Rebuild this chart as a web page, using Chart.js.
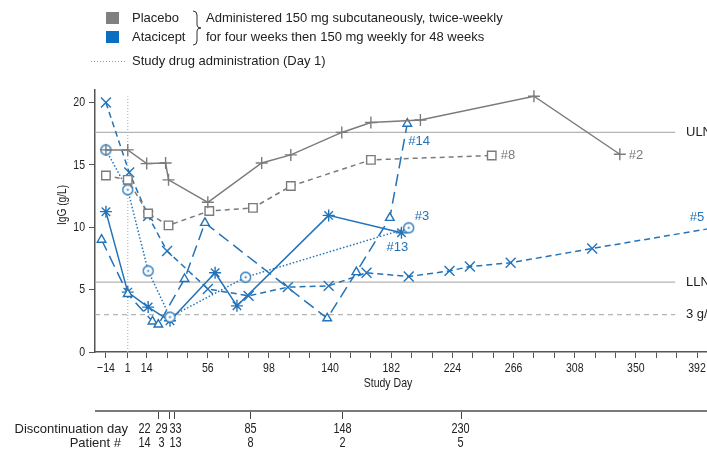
<!DOCTYPE html>
<html>
<head>
<meta charset="utf-8">
<script src="https://cdn.jsdelivr.net/npm/chart.js@4.4.0/dist/chart.umd.min.js"></script>
<style>
  html, body { margin: 0; padding: 0; background: #fff; overflow: hidden; }
  #wrap { width: 707px; height: 454px; overflow: hidden; }
</style>
</head>
<body>
<div id="wrap"><canvas id="igg" width="760" height="454"></canvas></div>
<script>
// IgG (g/L) by study day, one pair of arrays per patient
const p2Days  = [-14, 1, 14, 27, 29, 56, 93, 113, 148, 168, 202, 280, 339];
const p2IgG   = [16.2, 16.2, 15.1, 15.15, 13.8, 12.0, 15.15, 15.8, 17.6, 18.4, 18.6, 20.5, 15.85];
const p8Days  = [-14, 1, 15, 29, 57, 87, 113, 168, 251];
const p8IgG   = [14.15, 13.8, 11.1, 10.15, 11.3, 11.55, 13.3, 15.4, 15.75];
const p14Days = [-17, 1, 18, 22, 40, 54, 138, 158, 181, 193];
const p14IgG  = [9.0, 4.65, 2.45, 2.2, 5.85, 10.35, 2.7, 6.4, 10.75, 18.3];
const p3Days  = [-14, 1, 15, 30, 82, 194];
const p3IgG   = [16.2, 13.0, 6.5, 2.8, 6.0, 9.95];
const p13Days = [-14, 1, 15, 30, 61, 76, 139, 189];
const p13IgG  = [11.25, 4.8, 3.6, 2.5, 6.35, 3.7, 10.95, 9.55];
const p5Days  = [-14, 2, 15, 28, 56, 84, 111, 139, 165, 194, 222, 236, 264, 320, 406];
const p5IgG   = [20.0, 14.4, 10.9, 8.1, 5.05, 4.5, 5.2, 5.3, 6.35, 6.05, 6.5, 6.85, 7.15, 8.3, 10.0];

const ULN = 17.6, LLN = 5.6, LOW = 3;
const dosingDay = 1;

const xTickValues = [-14, 1, 14, 28, 42, 56, 70, 84, 98, 112, 126, 140, 154, 168, 182, 196, 210,
                     224, 238, 252, 266, 280, 294, 308, 322, 336, 350, 364, 378, 392, 406, 420];
const xTickLabels = [-14, 1, 14, 56, 98, 140, 182, 224, 266, 308, 350, 392];
const yTickValues = [0, 5, 10, 15, 20];

const discDays = [22, 29, 33, 85, 148, 230];
const discPatients = ['14', '3', '13', '8', '2', '5'];

const gray = '#7b7b7b';
const blue = '#2273b9';
const refGray = '#b4b4b4';
const sans = '"Liberation Sans", Arial, Helvetica, sans-serif';

const pts = (xs, ys) => xs.map((x, i) => ({ x: x, y: ys[i] }));

function ring() {
  const c = document.createElement('canvas');
  c.width = 13; c.height = 13;
  const g = c.getContext('2d');
  g.strokeStyle = blue; g.lineWidth = 1.3; g.fillStyle = '#fff';
  g.beginPath(); g.arc(6.5, 6.5, 5, 0, Math.PI * 2); g.fill(); g.stroke();
  g.fillStyle = blue;
  g.beginPath(); g.arc(6.5, 6.5, 1.1, 0, Math.PI * 2); g.fill();
  return c;
}

function series(data, color, dash, style, r) {
  return {
    data: data, borderColor: color, borderWidth: 1.5, borderDash: dash,
    pointStyle: style, pointRadius: r, pointBorderColor: color, pointBorderWidth: 1.4,
    pointBackgroundColor: '#fff', fill: false, tension: 0, order: 1
  };
}
function refLine(data, dash) {
  return { data: data, borderColor: refGray, borderWidth: 1.2, borderDash: dash,
           pointRadius: 0, fill: false, order: 10 };
}

// condensed-looking text (no narrow face installed), squeezed horizontally
function narrowText(ctx, text, x, y, size, align, rot) {
  ctx.save();
  ctx.translate(x, y);
  if (rot) ctx.rotate(rot);
  ctx.scale(0.78, 1);
  ctx.font = size + 'px ' + sans;
  ctx.textAlign = align;
  ctx.textBaseline = 'middle';
  ctx.fillText(text, 0, 0);
  ctx.restore();
}

const tags = [
  { ds: 0, text: '#2',  color: gray, dx: 9,  dy: 1 },
  { ds: 1, text: '#8',  color: gray, dx: 9,  dy: 0 },
  { ds: 2, text: '#14', color: blue, dx: 1,  dy: 18 },
  { ds: 3, text: '#3',  color: blue, dx: 6,  dy: -11 },
  { ds: 4, text: '#13', color: blue, dx: -15, dy: 15 }
];

const extras = {
  id: 'extras',
  afterDraw(chart) {
    const ctx = chart.ctx, xs = chart.scales.x, ys = chart.scales.y;
    ctx.save();
    ctx.textBaseline = 'middle';

    // legend
    ctx.fillStyle = '#808080'; ctx.fillRect(106, 12, 13, 12);
    ctx.fillStyle = '#0b6fc1'; ctx.fillRect(106, 31, 13, 12);
    ctx.font = '13px ' + sans; ctx.fillStyle = '#222'; ctx.textAlign = 'left';
    ctx.fillText('Placebo', 132, 18);
    ctx.fillText('Atacicept', 132, 37);
    ctx.fillText('Administered 150 mg subcutaneously, twice-weekly', 206, 18);
    ctx.fillText('for four weeks then 150 mg weekly for 48 weeks', 206, 37);
    ctx.fillText('Study drug administration (Day 1)', 132, 61);
    ctx.strokeStyle = '#333'; ctx.lineWidth = 1;
    const bx = 197, y1 = 11, y2 = 45, m = (y1 + y2) / 2;
    ctx.beginPath();
    ctx.moveTo(bx - 4, y1); ctx.quadraticCurveTo(bx, y1, bx, y1 + 4);
    ctx.lineTo(bx, m - 3); ctx.quadraticCurveTo(bx, m, bx + 4, m);
    ctx.quadraticCurveTo(bx, m, bx, m + 3);
    ctx.lineTo(bx, y2 - 4); ctx.quadraticCurveTo(bx, y2, bx - 4, y2);
    ctx.stroke();
    ctx.strokeStyle = '#999'; ctx.setLineDash([1, 2]);
    ctx.beginPath(); ctx.moveTo(91, 61.5); ctx.lineTo(125, 61.5); ctx.stroke();
    ctx.setLineDash([]);

    // tick labels and axis titles
    ctx.fillStyle = '#222';
    xs.ticks.forEach(t => {
      if (!xTickLabels.includes(t.value)) return;
      const s = t.value < 0 ? '\u2212' + Math.abs(t.value) : String(t.value);
      narrowText(ctx, s, xs.getPixelForValue(t.value), 368.5, 13.5, 'center');
    });
    ys.ticks.forEach(t => {
      narrowText(ctx, String(t.value), 85, ys.getPixelForValue(t.value), 13.5, 'right');
    });
    narrowText(ctx, 'Study Day', 388, 383, 13.5, 'center');
    narrowText(ctx, 'IgG (g/L)', 62, 205, 13, 'center', -Math.PI / 2);

    // reference line labels
    ctx.fillStyle = '#222'; ctx.font = '13px ' + sans; ctx.textAlign = 'left';
    ctx.fillText('ULN', 686, ys.getPixelForValue(ULN));
    ctx.fillText('LLN', 686, ys.getPixelForValue(LLN));
    ctx.fillText('3 g/L', 686, ys.getPixelForValue(LOW));

    // patient tags
    tags.forEach(t => {
      const d = chart.getDatasetMeta(t.ds).data;
      const p = d[d.length - 1];
      ctx.fillStyle = t.color;
      ctx.fillText(t.text, p.x + t.dx, p.y + t.dy);
    });
    ctx.fillStyle = blue;
    ctx.fillText('#5', xs.getPixelForValue(387), ys.getPixelForValue(10.8));

    // discontinuation strip
    ctx.strokeStyle = '#7a7a7a'; ctx.lineWidth = 2;
    ctx.beginPath(); ctx.moveTo(95, 411); ctx.lineTo(chart.width, 411); ctx.stroke();
    ctx.strokeStyle = '#444'; ctx.lineWidth = 1;
    const nudge = [-14, -8, 1, 0, 0, -1];
    ctx.fillStyle = '#222';
    discDays.forEach((d, i) => {
      const x = Math.round(xs.getPixelForValue(d)) + 0.5;
      ctx.beginPath(); ctx.moveTo(x, 412); ctx.lineTo(x, 419); ctx.stroke();
      narrowText(ctx, String(d), x + nudge[i], 429, 14, 'center');
      narrowText(ctx, discPatients[i], x + nudge[i], 443.5, 14, 'center');
    });
    ctx.textAlign = 'right'; ctx.font = '13px ' + sans;
    ctx.fillText('Discontinuation day', 128, 429);
    ctx.fillText('Patient #', 121, 443.5);
    ctx.restore();
  }
};

new Chart(document.getElementById('igg'), {
  type: 'line',
  data: {
    datasets: [
      series(pts(p2Days, p2IgG), gray, [], 'cross', 6),
      series(pts(p8Days, p8IgG), gray, [5, 4], 'rect', 6),
      series(pts(p14Days, p14IgG), blue, [12, 6], 'triangle', 5),
      series(pts(p3Days, p3IgG), blue, [1.5, 2], ring(), 6),
      series(pts(p13Days, p13IgG), blue, [], 'star', 6),
      series(pts(p5Days, p5IgG), blue, [6, 4], 'crossRot', 7),
      refLine([{ x: -21.5, y: ULN }, { x: 377, y: ULN }], []),
      refLine([{ x: -21.5, y: LLN }, { x: 377, y: LLN }], []),
      refLine([{ x: -21.5, y: LOW }, { x: 377, y: LOW }], [5, 4]),
      refLine([{ x: dosingDay, y: 0 }, { x: dosingDay, y: 20.5 }], [1, 2])
    ]
  },
  options: {
    responsive: false,
    animation: false,
    layout: { padding: { top: 90, left: 0, right: 0, bottom: 0 } },
    plugins: { legend: { display: false }, tooltip: { enabled: false } },
    scales: {
      x: {
        type: 'linear', min: -21.5, max: 429.5,
        afterFit: s => { s.height = 102; },
        afterBuildTicks: s => { s.ticks = xTickValues.map(v => ({ value: v })); },
        grid: { display: true, drawOnChartArea: false, drawTicks: true, tickLength: 6, color: '#555' },
        border: { display: true, color: '#555', width: 1.5 },
        ticks: { display: false, autoSkip: false, maxRotation: 0 }
      },
      y: {
        min: 0, max: 21,
        afterFit: s => { s.width = 95; },
        afterBuildTicks: s => { s.ticks = yTickValues.map(v => ({ value: v })); },
        grid: { display: true, drawOnChartArea: false, drawTicks: true, tickLength: 6, color: '#555' },
        border: { display: true, color: '#555', width: 1.5 },
        ticks: { display: false }
      }
    }
  },
  plugins: [extras]
});
</script>
</body>
</html>
